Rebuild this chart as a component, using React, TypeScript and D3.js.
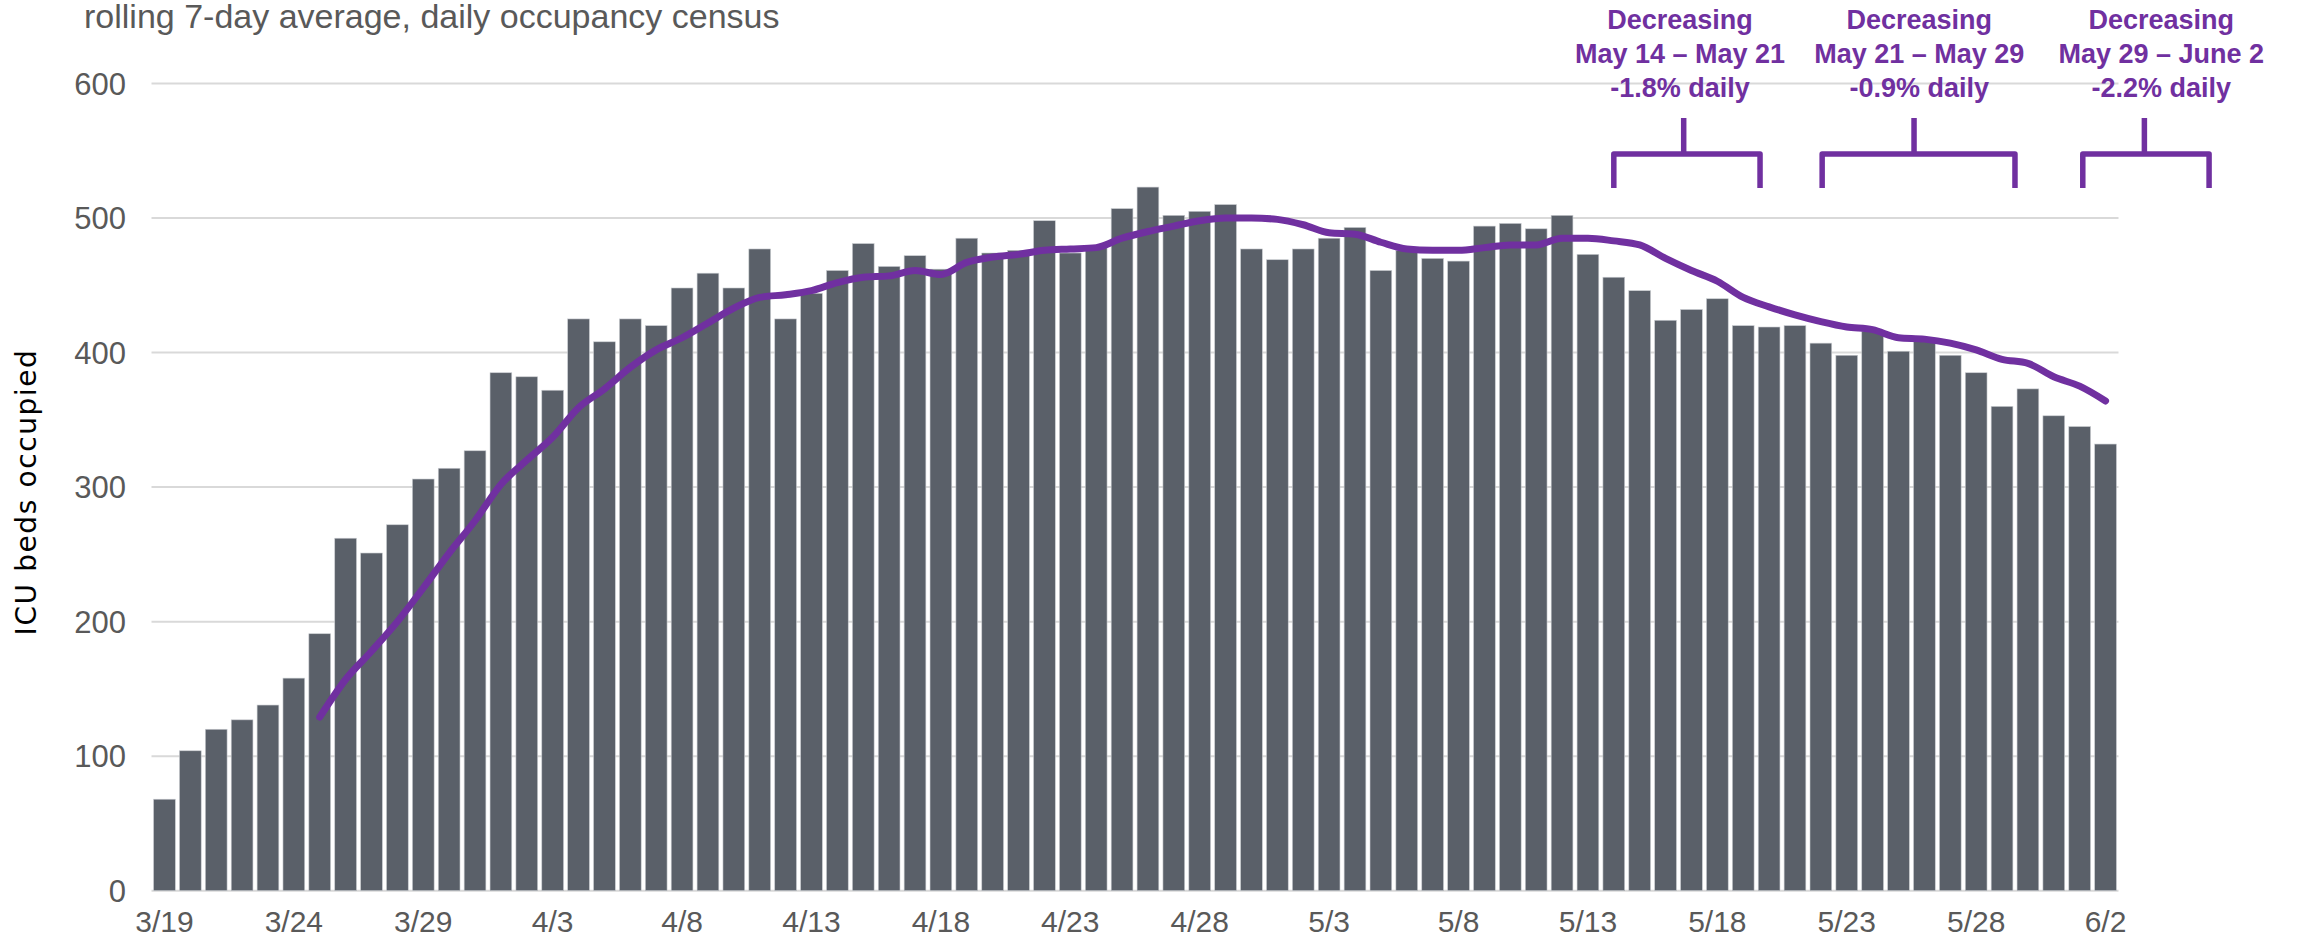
import React from "react";
import * as d3 from "d3";

const width = 2298;
const height = 938;
const plot = { left: 151.5, right: 2118.5, top: 83.5, bottom: 890.7 };

// daily ICU census, 3/19 .. 6/2
const icuBeds = [
  68, 104, 120, 127, 138, 158, 191, 262, 251, 272, 306, 314, 327,
  385, 382, 372, 425, 408, 425, 420, 448, 459, 448,
  477, 425, 444, 461, 481, 464, 472, 462, 485, 474,
  476, 498, 474, 479, 507, 523, 502, 505, 510, 477,
  469, 477, 485, 493, 461, 476, 470, 468, 494, 496,
  492, 502, 473, 456, 446, 424, 432, 440, 420, 419,
  420, 407, 398, 416, 401, 410, 398, 385, 360, 373, 353,
  345, 332,
];

// rolling 7-day average (starts 3/25)
const rollingAvg = [
  null, null, null, null, null, null,
  129, 157, 178, 200, 225, 251, 275, 302, 320, 337,
  359, 373, 389, 402, 411, 422, 433, 441, 443, 446,
  452, 456, 457, 461, 458, 467, 471, 473, 476, 477,
  478, 485, 490, 494, 498, 500, 500, 499, 495, 489,
  488, 482, 477, 476, 476, 478, 480, 480, 485, 485,
  483, 480, 470, 461, 453, 441, 434, 428, 423, 419,
  417, 411, 410, 407, 402, 395, 392, 382, 375, 364,
];

const fmt = d3.timeFormat("%-m/%-d");
const days = d3.timeDay.range(new Date(2020, 2, 19), new Date(2020, 5, 3)).map(fmt);
const tickLabels = ["3/19", "3/24", "3/29", "4/3", "4/8", "4/13", "4/18", "4/23", "4/28", "5/3", "5/8", "5/13", "5/18", "5/23", "5/28", "6/2"];
const yTicks = [0, 100, 200, 300, 400, 500, 600];

const title = "rolling 7-day average, daily occupancy census";
const yTitle = "ICU beds occupied";

// annotation text and bracket spans (in day index units)
const noteLines = [
  ["Decreasing", "May 14 \u2013 May 21", "-1.8% daily"],
  ["Decreasing", "May 21 \u2013 May 29", "-0.9% daily"],
  ["Decreasing", "May 29 \u2013 June 2", "-2.2% daily"],
];
const noteSpans = [
  { from: 56, to: 61.65, stem: 58.7, text: 58.56 },
  { from: 64.05, to: 71.5, stem: 67.6, text: 67.8 },
  { from: 74.12, to: 79, stem: 76.5, text: 77.15 },
];

const purple = "#7030A0";
const barColor = "#5a6069";
const grid = "#d9d9d9";
const labelColor = "#595959";

export default function App() {
  const x = d3
    .scaleBand()
    .domain(days)
    .range([plot.left, plot.right])
    .paddingInner(0.16)
    .paddingOuter(0.08);

  const y = d3.scaleLinear().domain([0, 600]).range([plot.bottom, plot.top]);

  const cx = (d) => x(d) + x.bandwidth() / 2;
  // day index -> pixel, built off the band scale
  const xi = d3
    .scaleLinear()
    .domain([0, days.length - 1])
    .range([cx(days[0]), cx(days[days.length - 1])]);

  const line = d3
    .line()
    .defined((d) => d != null)
    .x((d, i) => cx(days[i]))
    .y((d) => y(d))
    .curve(d3.curveMonotoneX);

  return (
    <svg
      width={width}
      height={height}
      style={{ position: "absolute", left: 0, top: 0 }}
      fontFamily="'Liberation Sans', Arial, sans-serif"
    >
      <text x={84} y={28} fontSize={34} fill={labelColor}>
        {title}
      </text>

      {yTicks.map((t) => (
        <g key={t}>
          <line x1={plot.left} x2={plot.right} y1={y(t)} y2={y(t)} stroke={grid} strokeWidth={2} />
          <text x={126} y={y(t)} dy="0.36em" textAnchor="end" fontSize={31} fill={labelColor}>
            {t}
          </text>
        </g>
      ))}

      {icuBeds.map((v, i) => (
        <rect
          key={i}
          x={x(days[i])}
          y={y(v)}
          width={x.bandwidth()}
          height={y(0) - y(v)}
          fill={barColor}
          stroke="#c9ccd0"
          strokeWidth={0.6}
        />
      ))}

      <path
        d={line(rollingAvg)}
        fill="none"
        stroke={purple}
        strokeWidth={7}
        strokeLinejoin="round"
        strokeLinecap="round"
      />

      {tickLabels.map((t) => (
        <text key={t} x={cx(t)} y={932} textAnchor="middle" fontSize={30} fill={labelColor}>
          {t}
        </text>
      ))}

      <text
        transform="translate(25.5, 492) rotate(-90)"
        dy="0.36em"
        textAnchor="middle"
        fontSize={28}
        letterSpacing={1.6}
        fontFamily="'DejaVu Sans', sans-serif"
        fill="#000"
      >
        {yTitle}
      </text>

      {noteSpans.map((s, k) => (
        <g key={k}>
          {noteLines[k].map((ln, j) => (
            <text
              key={j}
              x={xi(s.text)}
              y={28.5 + j * 34}
              textAnchor="middle"
              fontSize={27}
              fontWeight="bold"
              fill={purple}
            >
              {ln}
            </text>
          ))}
          <path
            d={`M${xi(s.stem)},118 V154 M${xi(s.from)},188 V154 H${xi(s.to)} V188`}
            fill="none"
            stroke={purple}
            strokeWidth={5.5}
            strokeLinejoin="round"
          />
        </g>
      ))}
    </svg>
  );
}
